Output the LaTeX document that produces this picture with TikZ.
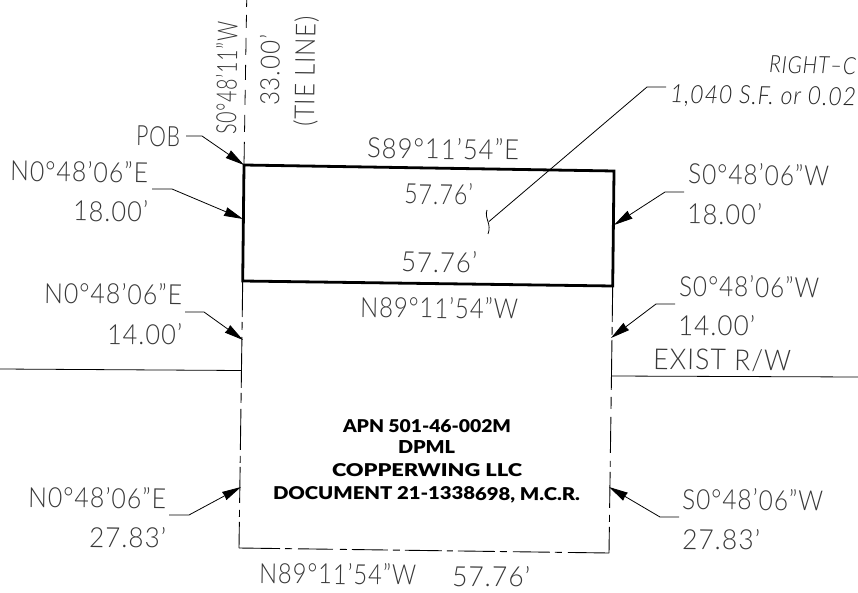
\documentclass[tikz,border=0pt]{standalone}
\usepackage{fontspec}
\usepackage{graphicx}
\usetikzlibrary{arrows.meta}
\newfontfamily\cad{Lato Light}[LetterSpace=4]
\newfontfamily\cadit{Lato Light Italic}[LetterSpace=4]
\newfontfamily\blk{Lato Black}
\setmainfont{Lato}
\newcommand{\lab}[6][0]{\node[txt,text=black!78,rotate=#1-0.8] (#2) at (#3) {\resizebox{#4pt}{#5pt}{\cad #6}};}
\newcommand{\blab}[4]{\node[txt,rotate=-0.3] (#1) at (#2) {\resizebox{#3pt}{13pt}{\blk #4}};}
\tikzset{
  txt/.style={anchor=base west,inner sep=0pt,outer sep=0pt},
  thickline/.style={line width=2.8pt,line join=miter},
  thin line/.style={line width=0.8pt},
  leader/.style={line width=0.8pt,-{Stealth[length=19pt,width=9pt,inset=0.5pt]}},
  plain leader/.style={line width=0.8pt},
  dashleft/.style={line width=0.9pt,dash pattern=on 36pt off 5pt on 8pt off 7pt on 51pt off 5pt on 10pt off 6pt on 41pt off 6pt on 7pt off 4pt on 36pt off 7pt on 7pt off 5pt on 40pt off 40pt},
  dashbottom/.style={line width=0.9pt,dash pattern=on 41pt off 5pt on 7pt off 6pt on 35pt off 7pt on 7pt off 5pt on 36pt off 5pt on 7pt off 5pt on 37pt off 5pt on 6pt off 5pt on 37pt off 5pt on 7pt off 6pt on 37pt off 5pt on 7pt off 6pt on 60pt off 60pt},
  dashright/.style={line width=0.9pt,dash pattern=on 36pt off 5pt on 8pt off 5pt on 50pt off 7pt on 12pt off 8pt on 36pt off 8pt on 6pt off 5pt on 36pt off 7pt on 7pt off 5pt on 50pt off 50pt},
  tie/.style={line width=0.8pt,dash pattern=on 7pt off 8pt on 13pt off 10pt on 17pt off 10pt on 15pt off 10pt on 15pt off 10pt on 17pt off 10pt on 40pt off 40pt}
}
\begin{document}
\begin{tikzpicture}[x=1pt,y=-1pt]
\useasboundingbox (0,0) rectangle (858,593);
% corners
\coordinate (A) at (244,165);
\coordinate (B) at (614,171);
\coordinate (C) at (612.7,286);
\coordinate (D) at (242.7,281);
\coordinate (E) at (239,548);
\coordinate (F) at (609,553);
\coordinate (T) at (246.7,0);
% lines
\draw[tie] (T) -- (A);
\draw[dashleft] (D) -- (E);
\draw[dashbottom] (E) -- (F);
\draw[dashright] (C) -- (F);
\draw[thickline] (A) -- (B) -- (C) -- (D) -- cycle;
\coordinate (LW0) at (0,369); \coordinate (LW1) at (241,370.5);
\coordinate (RW0) at (611,376); \coordinate (RW1) at (858,377);
\draw[thin line] (LW0) -- (LW1);
\draw[thin line] (RW0) -- (RW1);
% leaders
\coordinate (p1) at (186,136); \coordinate (p2) at (202,136);
\draw[leader] (p1) -- (p2) -- (A);
\coordinate (a1) at (152,189); \coordinate (a2) at (172,189); \coordinate (a3) at (243,219);
\draw[leader] (a1) -- (a2) -- (a3);
\coordinate (b1) at (684,192); \coordinate (b2) at (665,192); \coordinate (b3) at (614,225);
\draw[leader] (b1) -- (b2) -- (b3);
\coordinate (c1) at (185,312); \coordinate (c2) at (204,312); \coordinate (c3) at (243,340);
\draw[leader] (c1) -- (c2) -- (c3);
\coordinate (d1) at (675,304); \coordinate (d2) at (656,304); \coordinate (d3) at (611,338);
\draw[leader] (d1) -- (d2) -- (d3);
\coordinate (e1) at (169,515); \coordinate (e2) at (189,515); \coordinate (e3) at (241,487);
\draw[leader] (e1) -- (e2) -- (e3);
\coordinate (f1) at (679,517); \coordinate (f2) at (660,517); \coordinate (f3) at (609,487);
\draw[leader] (f1) -- (f2) -- (f3);
\coordinate (r1) at (666,87); \coordinate (r2) at (647,87); \coordinate (r3) at (489,221.5);
\coordinate (s1) at (487,210); \coordinate (s2) at (488,234);
\draw[plain leader] (r1) -- (r2) -- (r3);
\draw[plain leader] (s1) .. controls (484,218) and (492,224) .. (s2);
% labels
\lab[90]{t1}{236,135}{113}{21}{S0°48’11”W}
\lab[90]{t2}{279,106}{71}{20}{33.00’}
\lab[90]{t3}{314,127}{111}{21}{(TIE LINE)}
\lab{t4}{367,158}{152}{21}{S89°11’54”E}
\lab{t5}{404,204}{69}{21}{57.76’}
\lab{t6}{401,272}{76}{21}{57.76’}
\lab{t7}{360,317}{158}{21}{N89°11’54”W}
\lab{t8}{10,181}{138}{21}{N0°48’06”E}
\lab{t9}{73,221}{75}{21}{18.00’}
\lab{t10}{136,146}{44}{20}{POB}
\lab{t11}{688,184}{141}{21}{S0°48’06”W}
\lab{t12}{687,224}{75}{21}{18.00’}
\lab{t13}{44,303}{138}{21}{N0°48’06”E}
\lab{t14}{107,344}{75}{21}{14.00’}
\lab{t15}{679,296}{140}{21}{S0°48’06”W}
\lab{t16}{678,335}{77}{21}{14.00’}
\lab{t17}{653,369}{138}{21}{EXIST R/W}
\lab{t18}{28,507}{138}{21}{N0°48’06”E}
\lab{t19}{89,547}{77}{21}{27.83’}
\lab{t20}{682,509}{141}{21}{S0°48’06”W}
\lab{t21}{682,549}{78}{21}{27.83’}
\lab{t22}{259,583}{157}{21}{N89°11’54”W}
\lab{t23}{452,586}{78}{21}{57.76’}
\node[txt,text=black!85,rotate=-0.8] (t24) at (769,73) {\resizebox{87pt}{17pt}{\cadit RIGHT–C}};
\node[txt,text=black!85,rotate=-0.8] (t25) at (670,103) {\resizebox{186pt}{18pt}{\cadit 1,040 S.F. or 0.02}};
\blab{t26}{343,432}{168}{APN 501-46-002M}
\blab{t27}{398,453}{57}{DPML}
\blab{t28}{332,476}{190}{COPPERWING LLC}
\blab{t29}{273,499}{307}{DOCUMENT 21-1338698, M.C.R.}
\end{tikzpicture}
\end{document}
